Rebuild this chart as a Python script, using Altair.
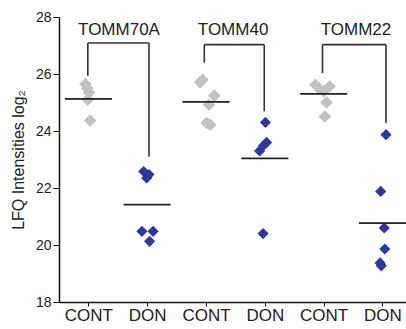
import altair as alt
import pandas as pd

# ---- data ----
genes = ["TOMM70A", "TOMM40", "TOMM22"]
groups = ["CONT", "DON"]

cont_values = [
    [25.65, 25.50, 25.35, 25.10, 24.37],
    [25.80, 25.71, 25.24, 24.92, 24.28, 24.22],
    [25.62, 25.56, 25.47, 25.40, 25.00, 24.51],
]
cont_jitter = [
    [-0.05, -0.02, 0.01, -0.01, 0.03],
    [-0.06, -0.10, 0.14, 0.05, 0.01, 0.07],
    [-0.14, 0.10, -0.07, 0.00, 0.05, 0.02],
]
don_values = [
    [22.58, 22.47, 22.35, 20.48, 20.48, 20.13],
    [24.30, 23.60, 23.50, 23.30, 20.40],
    [23.87, 21.88, 20.60, 19.86, 19.37, 19.27],
]
don_jitter = [
    [-0.06, 0.03, -0.01, -0.09, 0.10, 0.04],
    [0.01, 0.03, -0.02, -0.09, -0.03],
    [0.06, -0.03, 0.03, 0.04, -0.04, -0.02],
]
cont_means = [25.13, 25.02, 25.30]
don_means = [21.42, 23.04, 20.77]

# brackets above each pair
bracket_left_x = [0.99, 2.97, 4.98]
bracket_right_x = [2.03, 3.99, 6.06]
bracket_top = [27.09, 27.03, 27.03]
bracket_left_bottom = [25.94, 26.40, 26.03]
bracket_right_bottom = [23.10, 24.69, 24.28]

label_x = [1.52, 3.46, 5.55]
label_y = [27.55, 27.55, 27.55]

tick_values = [1, 2, 3, 4, 5, 6]
y_ticks = list(range(18, 29))

# ---- tables ----
rows = []
for gi, g in enumerate(genes):
    for v, j in zip(cont_values[gi], cont_jitter[gi]):
        rows.append({"gene": g, "group": "CONT", "x": gi * 2 + 1 + j, "y": v})
    for v, j in zip(don_values[gi], don_jitter[gi]):
        rows.append({"gene": g, "group": "DON", "x": gi * 2 + 2 + j, "y": v})
pts = pd.DataFrame(rows)

mrows = []
for gi, g in enumerate(genes):
    mrows.append({"x": gi * 2 + 1 - 0.4, "x2": gi * 2 + 1 + 0.4, "y": cont_means[gi]})
    mrows.append({"x": gi * 2 + 2 - 0.4, "x2": gi * 2 + 2 + 0.4, "y": don_means[gi]})
means = pd.DataFrame(mrows)

br = pd.DataFrame({
    "lx": bracket_left_x, "rx": bracket_right_x, "top": bracket_top,
    "lb": bracket_left_bottom, "rb": bracket_right_bottom,
})
labels = pd.DataFrame({"gene": genes, "x": label_x, "y": label_y})

xscale = alt.Scale(domain=[0.5, 6.4], nice=False, zero=False)
yscale = alt.Scale(domain=[18, 28], nice=False, zero=False)

FONT = "Liberation Sans"
TXT = "#222222"

xaxis = alt.Axis(
    values=tick_values,
    labelExpr="datum.value % 2 == 1 ? 'CONT' : 'DON'",
    title=None, grid=False, labelFontSize=17, labelFont=FONT, labelColor=TXT,
    tickSize=4, labelPadding=1, domainColor="#111111", domainWidth=1.5,
    tickColor="#111111", labelFlush=False,
)
yaxis = alt.Axis(
    values=y_ticks,
    labelExpr="datum.value % 2 == 0 ? datum.label : ''",
    title="LFQ Intensities log₂", titleFontSize=16, titleFont=FONT,
    titleFontWeight="normal", titleColor=TXT, titlePadding=9,
    grid=False, labelFontSize=14, labelFont=FONT, labelColor=TXT,
    tickSize={"condition": {"test": "datum.value % 2 == 1", "value": 3}, "value": 6},
    labelPadding=2, domainColor="#111111", domainWidth=1.5, tickColor="#111111",
    labelFlush=False,
)

points = alt.Chart(pts).mark_point(shape="diamond", filled=True, opacity=1).encode(
    x=alt.X("x:Q", scale=xscale, axis=xaxis),
    y=alt.Y("y:Q", scale=yscale, axis=yaxis),
    color=alt.Color("group:N", scale=alt.Scale(domain=groups, range=["#c2c2c2", "#2b3a9c"]), legend=None),
    size=alt.Size("group:N", scale=alt.Scale(domain=groups, range=[160, 125]), legend=None),
)

mean_rules = alt.Chart(means).mark_rule(color="#222222", strokeWidth=1.8, clip=True).encode(
    x="x:Q", x2="x2:Q", y="y:Q"
)

left_v = alt.Chart(br).mark_rule(color="#333333", strokeWidth=1.6).encode(
    x="lx:Q", y="lb:Q", y2="top:Q"
)
right_v = alt.Chart(br).mark_rule(color="#333333", strokeWidth=1.6).encode(
    x="rx:Q", y="rb:Q", y2="top:Q"
)
horiz = alt.Chart(br).mark_rule(color="#333333", strokeWidth=1.6).encode(
    x="lx:Q", x2="rx:Q", y="top:Q"
)

texts = alt.Chart(labels).mark_text(fontSize=17, font=FONT, color=TXT, baseline="middle").encode(
    x="x:Q", y="y:Q", text="gene:N"
)

chart = alt.layer(points, mean_rules, left_v, right_v, horiz, texts).properties(
    width=347, height=285,
    autosize=alt.AutoSizeParams(type="none"),
    padding={"left": 59, "top": 17, "right": 0, "bottom": 27},
).configure_view(stroke=None)

chart.save("out.html", embed_options={"renderer": "svg", "actions": False})
